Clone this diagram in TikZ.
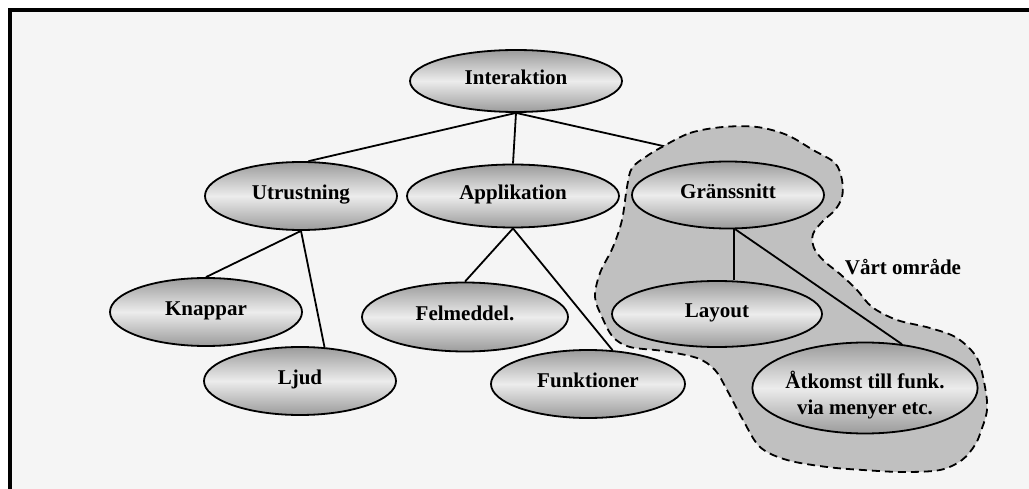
\documentclass[tikz,border=0pt]{standalone}
\usepackage{fontspec}
\setmainfont{Liberation Serif}
\usetikzlibrary{shapes.geometric}
\pgfdeclarelayer{back}
\pgfdeclarelayer{under}
\pgfdeclarelayer{region}
\pgfsetlayers{back,under,region,main}
\definecolor{paper}{RGB}{245,245,245}
\definecolor{regiongray}{RGB}{192,192,192}
\definecolor{shadedark}{RGB}{155,155,155}
\definecolor{shadelight}{RGB}{236,236,236}
\begin{document}
\begin{tikzpicture}[x=1pt,y=-1pt,
  topic/.style={ellipse, draw, line width=1.8pt, inner sep=0pt,
    top color=shadedark, bottom color=shadedark, middle color=shadelight,
    font=\fontsize{21}{26}\selectfont\bfseries, text height=14pt, text depth=7pt},
  size/.style 2 args={minimum width=#1pt, minimum height=#2pt},
  link/.style={line width=1.8pt},
  ]
\useasboundingbox (0,0) rectangle (1029,489);

% page and frame
\begin{pgfonlayer}{back}
  \fill[paper] (10,10) rectangle (1029,489);
  \draw[line width=3.5pt] (10,495) -- (10,10) -- (1035,10);
\end{pgfonlayer}

% topics
\node[topic, size={212}{62}] (inter) at (516,81) {Interaktion};
\node[topic, size={192}{68}] (utr)   at (301,196) {Utrustning};
\node[topic, size={212}{63}] (app)   at (513,196) {Applikation};
\node[topic, size={192}{67}] (gr)    at (728,195) {Gränssnitt};
\node[topic, size={192}{68}] (kn)    at (206,312) {Knappar};
\node[topic, size={192}{68}] (ljud)  at (300,381) {Ljud};
\node[topic, size={206}{69}] (fel)   at (465,317) {Felmeddel.};
\node[topic, size={194}{68}] (funk)  at (588,384) {Funktioner};
\node[topic, size={210}{66}] (lay)   at (717,314) {Layout};
\node[topic, size={216}{91}, text height=, text depth=] (atk) at (865,388)
  {\raisebox{-8.5pt}[\height][\depth]{\begin{tabular}{@{}c@{}}Åtkomst till funk.\\via menyer etc.\end{tabular}}};

\node[font=\fontsize{21}{24}\selectfont\bfseries] (area) at (903,267) {Vårt område};

% shaded area around the interface branch
\begin{pgfonlayer}{region}
  \draw[fill=regiongray, line width=1.8pt, dash pattern=on 8pt off 5pt]
    plot[smooth cycle, tension=0.55] coordinates {
      (662,147) (690,133) (723,127) (757,127) (787,135) (813,150) (835,163)
      (842,180) (842,197) (835,210) (823,221) (813,234) (814,248) (824,261)
      (840,274) (857,290) (872,307) (897,320) (930,328) (957,338) (977,358)
      (985,387) (987,410) (981,431) (975,445) (962,460) (940,470) (903,472)
      (863,470) (827,467) (787,460) (760,447) (743,420) (727,390) (715,370)
      (697,358) (663,351) (630,347) (613,337) (602,317) (595,297) (600,273)
      (613,247) (622,220) (627,187) (632,168) (647,156)};
\end{pgfonlayer}

% connectors
\begin{pgfonlayer}{under}
  \draw[link] (inter.south) -- (gr.north);
\end{pgfonlayer}
\draw[link] (inter.south) -- (utr.78);
\draw[link] (inter.south) -- (app.north);
\draw[link] (utr.south) -- (kn.north);
\draw[link] (utr.south) -- (ljud.54);
\draw[link] (app.south) -- (fel.north);
\draw[link] (app.south) -- (funk.54);
\draw[link] (gr.-80) -- (gr.-80 |- lay.north);
\draw[link] (gr.-78) -- (atk.50);
\end{tikzpicture}
\end{document}
